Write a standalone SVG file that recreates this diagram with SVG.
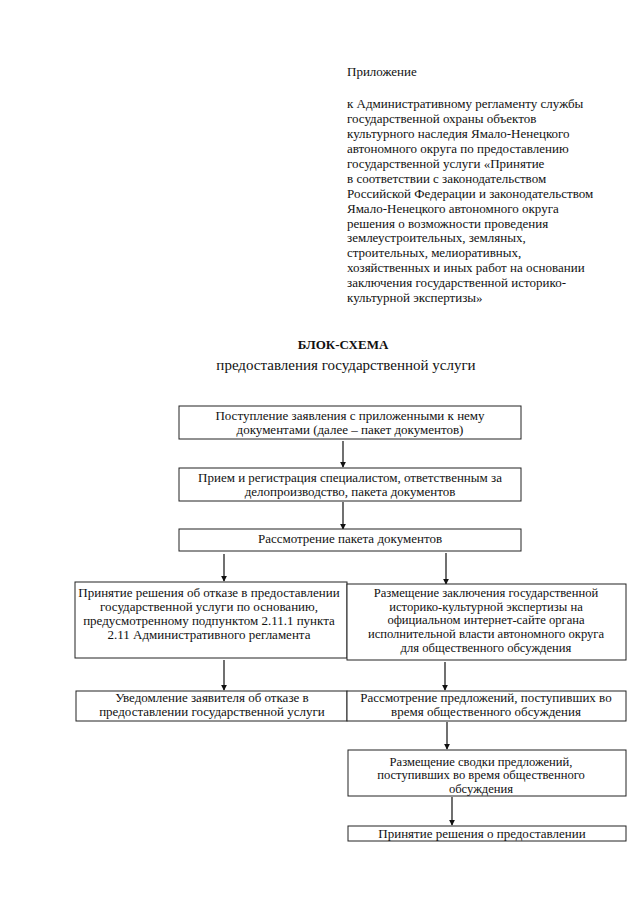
<svg xmlns="http://www.w3.org/2000/svg" width="640" height="905" viewBox="0 0 640 905">
<defs>
<style>
text{font-family:"Liberation Serif","Times New Roman",serif;font-size:13px;fill:#111}
.hd{font-size:13px}
.c{text-anchor:middle}
.t1{font-weight:bold;font-size:13px}
.t2{font-size:15px}
.sm{font-size:12.6px}
.box{fill:#fff;stroke:#222;stroke-width:1}
.ln{stroke:#111;stroke-width:1.2;fill:none}
</style>
<marker id="ar" viewBox="0 0 8 8" refX="7" refY="4" markerWidth="6" markerHeight="6" orient="auto" markerUnits="userSpaceOnUse">
<path d="M0,0 L8,4 L0,8 z" fill="#111"/>
</marker>
</defs>
<rect width="640" height="905" fill="#fff"/>
<g id="header">
<text class="hd" x="347" y="76">Приложение</text>
<text class="hd" x="347" y="108">к Административному регламенту службы</text>
<text class="hd" x="347" y="123">государственной охраны объектов</text>
<text class="hd" x="347" y="138">культурного наследия Ямало-Ненецкого</text>
<text class="hd" x="347" y="153">автономного округа по предоставлению</text>
<text class="hd" x="347" y="168">государственной услуги «Принятие</text>
<text class="hd" x="347" y="183">в соответствии с законодательством</text>
<text class="hd" x="347" y="198">Российской Федерации и законодательством</text>
<text class="hd" x="347" y="213">Ямало-Ненецкого автономного округа</text>
<text class="hd" x="347" y="228">решения о возможности проведения</text>
<text class="hd" x="347" y="242">землеустроительных, земляных,</text>
<text class="hd" x="347" y="257">строительных, мелиоративных,</text>
<text class="hd" x="347" y="272">хозяйственных и иных работ на основании</text>
<text class="hd" x="347" y="287">заключения государственной историко-</text>
<text class="hd" x="347" y="302">культурной экспертизы»</text>
</g>
<g id="title">
<text class="c t1" x="343" y="349">БЛОК-СХЕМА</text>
<text class="c t2" x="346" y="370">предоставления государственной услуги</text>
</g>
<g id="connectors">
<line class="ln" x1="343" y1="441" x2="343" y2="467" marker-end="url(#ar)"/>
<line class="ln" x1="343" y1="502" x2="343" y2="529" marker-end="url(#ar)"/>
<line class="ln" x1="224" y1="554" x2="224" y2="581" marker-end="url(#ar)"/>
<line class="ln" x1="446" y1="553" x2="446" y2="584" marker-end="url(#ar)"/>
<line class="ln" x1="224" y1="660" x2="224" y2="690" marker-end="url(#ar)"/>
<line class="ln" x1="445" y1="662" x2="445" y2="690" marker-end="url(#ar)"/>
<line class="ln" x1="447" y1="722" x2="447" y2="749" marker-end="url(#ar)"/>
<line class="ln" x1="452" y1="797" x2="452" y2="825" marker-end="url(#ar)"/>
</g>
<g id="n1">
<rect class="box" x="179" y="406" width="342" height="33"/>
<text class="c" x="350" y="420">Поступление заявления с приложенными к нему</text>
<text class="c" x="350" y="434">документами (далее – пакет документов)</text>
</g>
<g id="n2">
<rect class="box" x="179" y="468" width="342" height="33"/>
<text class="c" x="350" y="482">Прием и регистрация специалистом, ответственным за</text>
<text class="c" x="350" y="496">делопроизводство, пакета документов</text>
</g>
<g id="n3">
<rect class="box" x="179" y="529" width="342" height="22"/>
<text class="c" x="350" y="543">Рассмотрение пакета документов</text>
</g>
<g id="n4">
<rect class="box" x="75" y="582" width="272" height="76"/>
<text class="c" x="209" y="597">Принятие решения об отказе в предоставлении</text>
<text class="c" x="209" y="611">государственной услуги по основанию,</text>
<text class="c" x="209" y="625">предусмотренному подпунктом 2.11.1 пункта</text>
<text class="c" x="209" y="639">2.11 Административного регламента</text>
</g>
<g id="n5">
<rect class="box" x="347" y="584" width="279" height="76"/>
<text class="c sm" x="486" y="597">Размещение заключения государственной</text>
<text class="c sm" x="486" y="610.7">историко-культурной экспертизы на</text>
<text class="c sm" x="486" y="624.4">официальном интернет-сайте органа</text>
<text class="c sm" x="486" y="638.1">исполнительной власти автономного округа</text>
<text class="c sm" x="486" y="651.8">для общественного обсуждения</text>
</g>
<g id="n6">
<rect class="box" x="76" y="691" width="271" height="30"/>
<text class="c" x="212" y="702">Уведомление заявителя об отказе в</text>
<text class="c" x="212" y="716">предоставлении государственной услуги</text>
</g>
<g id="n7">
<rect class="box" x="347" y="691" width="279" height="30"/>
<text class="c" x="486" y="702">Рассмотрение предложений, поступивших во</text>
<text class="c" x="486" y="716">время общественного обсуждения</text>
</g>
<g id="n8">
<rect class="box" x="348" y="750" width="278" height="46"/>
<text class="c sm" x="481" y="765.5">Размещение сводки предложений,</text>
<text class="c sm" x="481" y="779.2">поступивших во время общественного</text>
<text class="c sm" x="481" y="792.9">обсуждения</text>
</g>
<g id="n9">
<rect class="box" x="348" y="826" width="278" height="15"/>
<text class="c" x="482" y="838">Принятие решения о предоставлении</text>
</g>
</svg>
